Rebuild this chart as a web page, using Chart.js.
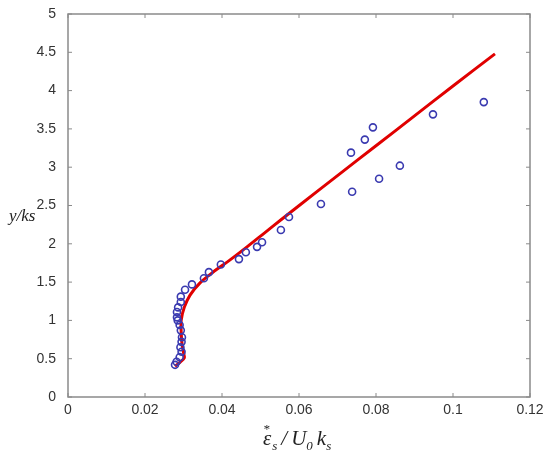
<!DOCTYPE html>
<html>
<head>
<meta charset="utf-8">
<script src="https://cdn.jsdelivr.net/npm/chart.js@4"></script>
<style>
  html, body { margin: 0; padding: 0; background: #fff; }
  #wrap { width: 550px; height: 456px; }
</style>
</head>
<body>
<div id="wrap"><canvas id="c"></canvas></div>
<script>
// measured points (circles)
const measX = [0.0278, 0.0282, 0.0290, 0.0295, 0.0292, 0.0295, 0.0296, 0.0293, 0.0290, 0.0285, 0.0283, 0.0283, 0.0286, 0.0293, 0.0293, 0.0304, 0.0322, 0.0353, 0.0366, 0.0397, 0.0444, 0.0462, 0.0491, 0.0504, 0.0553, 0.0574, 0.0657, 0.0738, 0.0808, 0.0862, 0.0735, 0.0771, 0.0792, 0.0948, 0.108];
const measY = [0.42, 0.46, 0.52, 0.59, 0.65, 0.72, 0.78, 0.87, 0.94, 1.00, 1.04, 1.11, 1.17, 1.24, 1.31, 1.40, 1.47, 1.55, 1.63, 1.73, 1.80, 1.89, 1.96, 2.02, 2.18, 2.35, 2.52, 2.68, 2.85, 3.02, 3.19, 3.36, 3.52, 3.69, 3.85];

// model curve (red)
const modelX = [0.0278, 0.0290, 0.0302, 0.0300, 0.0296, 0.0294, 0.0294, 0.0302, 0.0317, 0.0343, 0.0377, 0.0421, 0.0465, 0.0510, 0.0555, 0.0603, 0.0700, 0.0800, 0.0900, 0.1000, 0.1109];
const modelY = [0.40, 0.45, 0.51, 0.58, 0.70, 0.85, 1.00, 1.17, 1.33, 1.49, 1.63, 1.79, 1.96, 2.14, 2.32, 2.51, 2.89, 3.28, 3.67, 4.06, 4.48];

const xTicks = [0, 0.02, 0.04, 0.06, 0.08, 0.1, 0.12];
const yTicks = [0, 0.5, 1, 1.5, 2, 2.5, 3, 3.5, 4, 4.5, 5];

const toPts = (xs, ys) => xs.map((x, i) => ({ x: x, y: ys[i] }));

// box frame, inward ticks, axis labels
const framePlugin = {
  id: 'frame',
  afterDraw(chart) {
    const ctx = chart.ctx;
    const a = chart.chartArea;
    const sx = chart.scales.x, sy = chart.scales.y;
    ctx.save();
    ctx.strokeStyle = '#8a8a8a';
    ctx.lineWidth = 1.5;
    ctx.strokeRect(a.left, a.top, a.right - a.left, a.bottom - a.top);
    ctx.lineWidth = 1;
    ctx.beginPath();
    xTicks.forEach(v => {
      const px = sx.getPixelForValue(v);
      ctx.moveTo(px, a.bottom); ctx.lineTo(px, a.bottom - 4);
      ctx.moveTo(px, a.top); ctx.lineTo(px, a.top + 4);
    });
    yTicks.forEach(v => {
      const py = sy.getPixelForValue(v);
      ctx.moveTo(a.left, py); ctx.lineTo(a.left + 4, py);
      ctx.moveTo(a.right, py); ctx.lineTo(a.right - 4, py);
    });
    ctx.stroke();

    // y label, horizontal
    ctx.fillStyle = '#222';
    ctx.font = 'italic 17px "Liberation Serif"';
    ctx.textBaseline = 'alphabetic';
    ctx.textAlign = 'left';
    ctx.fillText('y/ks', 9, 221);

    // x label with sub/superscripts
    let x = 263, y = 445;
    const big = 'italic 21px "Liberation Serif"';
    const small = 'italic 13px "Liberation Serif"';
    const part = (t, f, dy) => {
      ctx.font = f;
      ctx.fillText(t, x, y + dy);
      return ctx.measureText(t).width;
    };
    const w0 = part('ε', big, 0);
    part('*', small, -12);
    x += w0 + 1;
    x += part('s', small, 5) + 4;
    x += part('/', big, 0) + 4;
    x += part('U', big, 0);
    x += part('0', small, 5) + 4;
    x += part('k', big, 0);
    part('s', small, 5);
    ctx.restore();
  }
};

new Chart(document.getElementById('c'), {
  type: 'scatter',
  data: {
    datasets: [
      {
        label: 'model',
        type: 'line',
        data: toPts(modelX, modelY),
        borderColor: '#e00000',
        borderWidth: 3,
        pointRadius: 0,
        tension: 0.3,
        fill: false,
        order: 1
      },
      {
        label: 'measured',
        data: toPts(measX, measY),
        showLine: false,
        pointRadius: 3.5,
        pointBorderWidth: 1.6,
        pointBorderColor: '#3a3ab0',
        pointBackgroundColor: 'rgba(0,0,0,0)',
        order: 0
      }
    ]
  },
  options: {
    responsive: true,
    maintainAspectRatio: false,
    animation: false,
    layout: { padding: { left: 0, right: 20, top: 14, bottom: 0 } },
    plugins: {
      legend: { display: false },
      tooltip: { enabled: false }
    },
    scales: {
      x: {
        type: 'linear',
        min: 0,
        max: 0.12,
        afterBuildTicks: s => { s.ticks = xTicks.map(v => ({ value: v })); },
        afterFit: s => { s.height = 59; },
        grid: { display: false },
        border: { display: false },
        ticks: {
          color: '#333',
          padding: -3,
          font: { family: '"Liberation Sans"', size: 14 },
          callback: v => String(v)
        }
      },
      y: {
        type: 'linear',
        min: 0,
        max: 5,
        afterBuildTicks: s => { s.ticks = yTicks.map(v => ({ value: v })); },
        afterFit: s => { s.width = 68; },
        grid: { display: false },
        border: { display: false },
        ticks: {
          color: '#333',
          padding: 4,
          font: { family: '"Liberation Sans"', size: 14 },
          callback: v => String(v)
        }
      }
    }
  },
  plugins: [framePlugin]
});
</script>
</body>
</html>
